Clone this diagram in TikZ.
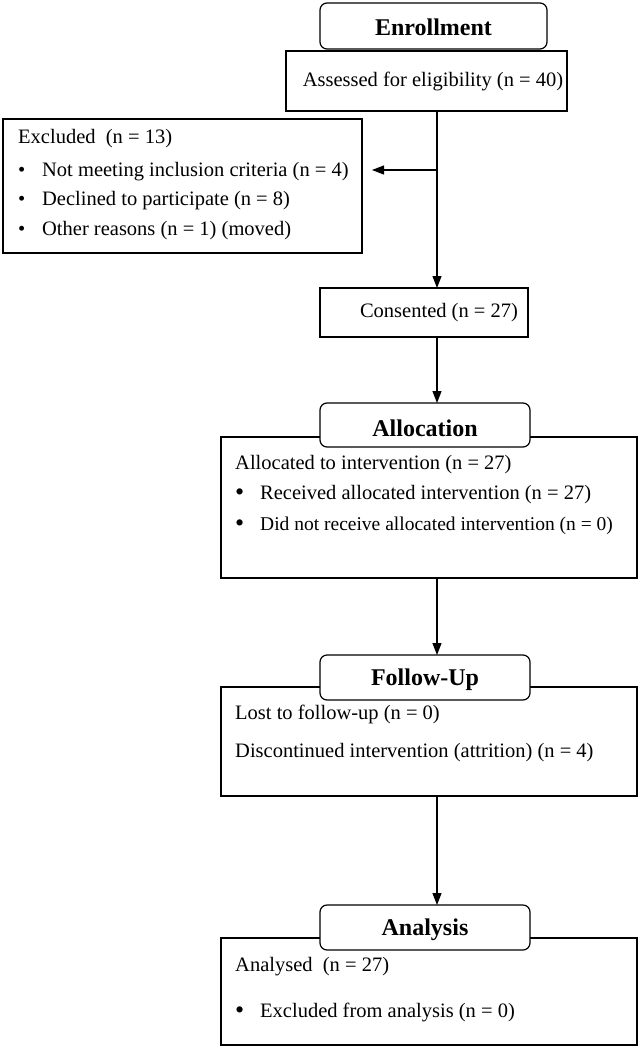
\documentclass[tikz,border=0pt]{standalone}
\usepackage{fontspec}
\setmainfont{Liberation Serif}
\usetikzlibrary{arrows.meta}
\newcommand{\smbul}{\makebox[24pt][l]{\textbullet}}
\newcommand{\bgbul}{\makebox[25pt][l]{\raisebox{-1pt}{\fontsize{26}{26}\selectfont\textbullet}}}
\begin{document}
\begin{tikzpicture}[x=1pt,y=-1pt,
  box/.style={draw,line width=1.2pt,fill=white},
  head/.style={draw,line width=1.2pt,fill=white,rounded corners=7pt},
  txt/.style={anchor=west,inner sep=0pt,font=\fontsize{20.5}{24}\selectfont},
  ctxt/.style={inner sep=0pt,font=\fontsize{20.5}{24}\selectfont},
  htxt/.style={inner sep=0pt,font=\fontsize{24}{28}\selectfont\bfseries},
  arr/.style={line width=1.2pt,-{Triangle[length=12pt,width=9pt]}}]
\useasboundingbox (0,0) rectangle (640,1050);
% Enrollment
\draw[box] (286,51) rectangle (567,111);
\draw[head] (320,3) rectangle (547,49);
\node[htxt] (enr) at (433.5,27) {Enrollment};
\node[ctxt] (ass) at (433,81) {Assessed for eligibility (n = 40)};
\coordinate (assb) at (437,111);
% Excluded
\draw[box] (3,119) rectangle (362,253);
\node[txt] (ex0) at (18,139) {Excluded\ \ (n = 13)};
\node[txt] (ex1) at (18,172) {\smbul Not meeting inclusion criteria (n = 4)};
\node[txt] (ex2) at (18,201) {\smbul Declined to participate (n = 8)};
\node[txt] (ex3) at (18,231) {\smbul Other reasons (n = 1) (moved)};
\coordinate (exarr) at (372,170);
\coordinate (split) at (437,170);
% Consented
\draw[box] (320,288) rectangle (528,337);
\node[ctxt] (cons) at (439,313) {Consented (n = 27)};
\coordinate (consT) at (437,288);
\coordinate (consB) at (437,337);
% Allocation
\draw[box] (221,437) rectangle (637,578);
\draw[head] (320,403) rectangle (530,447);
\node[htxt] (alloc) at (425,428) {Allocation};
\coordinate (allocT) at (437,403);
\coordinate (allocB) at (437,578);
\node[txt] (al0) at (235,465) {Allocated to intervention (n = 27)};
\node[txt] (al1) at (235,495) {\bgbul Received allocated intervention (n = 27)};
\node[txt,font=\fontsize{19.5}{24}\selectfont] (al2) at (235,526) {\bgbul Did not receive allocated intervention (n = 0)};
% Follow-Up
\draw[box] (221,687) rectangle (637,796);
\draw[head] (320,655) rectangle (530,700);
\node[htxt] (fu) at (425,680) {Follow-Up};
\coordinate (fuT) at (437,655);
\coordinate (fuB) at (437,796);
\node[txt] (fu0) at (235,714) {Lost to follow-up (n = 0)};
\node[txt] (fu1) at (235,753) {Discontinued intervention (attrition) (n = 4)};
% Analysis
\draw[box] (221,938) rectangle (637,1045);
\draw[head] (320,905) rectangle (530,950);
\node[htxt] (an) at (425,930) {Analysis};
\coordinate (anT) at (437,905);
\node[txt] (an0) at (235,967) {Analysed\ \ (n = 27)};
\node[txt] (an1) at (235,1012) {\bgbul Excluded from analysis (n = 0)};
% connectors
\draw[arr] (assb) -- (consT);
\draw[arr] (split) -- (exarr);
\draw[arr] (consB) -- (allocT);
\draw[arr] (allocB) -- (fuT);
\draw[arr] (fuB) -- (anT);
\end{tikzpicture}
\end{document}
